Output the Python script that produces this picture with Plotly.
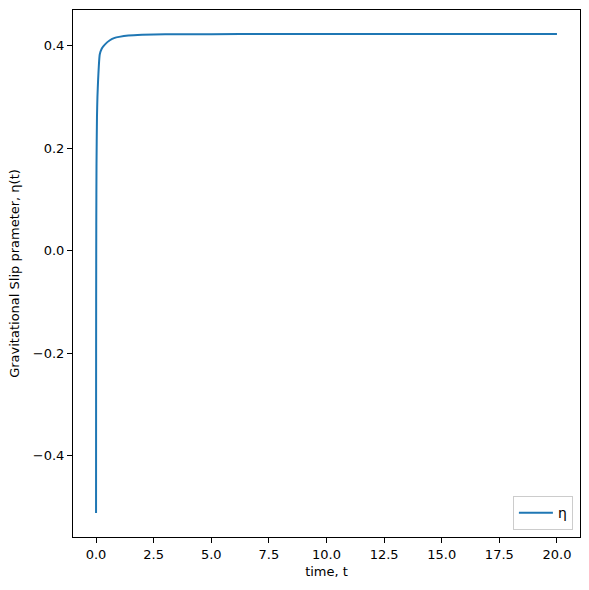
import plotly.graph_objects as go

# valeurs
time_t = [0.0, 0.002, 0.005, 0.01, 0.02, 0.04, 0.06, 0.09, 0.12, 0.16,
          0.25, 0.38, 0.6, 0.81, 1.0, 1.4, 2.0, 3.0, 5.0, 7.5, 10.0, 15.0, 20.0]
eta = [-0.512, -0.30, -0.10, 0.05, 0.17, 0.26, 0.30, 0.334, 0.36, 0.383,
       0.395, 0.4025, 0.411, 0.4156, 0.4175, 0.420, 0.4215, 0.4225, 0.4228,
       0.423, 0.423, 0.423, 0.423]

x_ticks = [0, 2.5, 5, 7.5, 10, 12.5, 15, 17.5, 20]
y_ticks = [-0.4, -0.2, 0.0, 0.2, 0.4]

FONT = "DejaVu Sans"

fig = go.Figure()
fig.add_trace(go.Scatter(
    x=time_t, y=eta, mode="lines", name="η",
    line=dict(color="#1f77b4", width=2, shape="spline", smoothing=0.5),
))

axis_style = dict(
    showline=True, linecolor="black", linewidth=1, mirror=True,
    ticks="outside", ticklen=5, tickwidth=1, tickcolor="black",
    showgrid=False, zeroline=False, automargin=False,
    tickfont=dict(family=FONT, size=13, color="black"),
)

fig.update_layout(
    width=589,
    height=590,
    margin=dict(l=73, r=9, t=10, b=53),
    plot_bgcolor="white",
    paper_bgcolor="white",
    font=dict(family=FONT, size=13, color="black"),
    xaxis=dict(
        range=[-1.0, 21.0], tickvals=x_ticks, tickformat=".1f",
        title=dict(text="time, t", font=dict(family=FONT, size=13), standoff=6),
        **axis_style,
    ),
    yaxis=dict(
        range=[-0.559, 0.470], tickvals=y_ticks, tickformat=".1f",
        title=dict(text="Gravitational Slip prameter, η(t)",
                   font=dict(family=FONT, size=13), standoff=10),
        **axis_style,
    ),
    showlegend=True,
    legend=dict(
        x=0.986, y=0.013, xanchor="right", yanchor="bottom",
        bgcolor="rgba(255,255,255,0.8)", bordercolor="#cccccc", borderwidth=1,
        font=dict(family=FONT, size=14),
        itemwidth=34,
    ),
)

# pas de marge autour de la page, pas de barre d'outils
fig.write_html("out.html", config={"displayModeBar": False},
               post_script="document.body.style.margin = '0';")
